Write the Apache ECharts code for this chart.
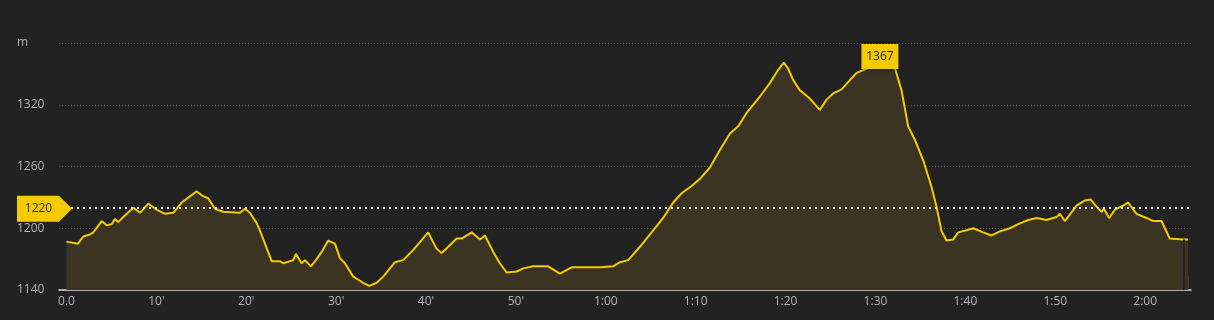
<!DOCTYPE html>
<html>
<head>
<meta charset="utf-8">
<script src="https://cdn.jsdelivr.net/npm/echarts@6/dist/echarts.min.js"></script>
<style>
  html, body { margin: 0; padding: 0; background: #222222; }
  #chart { width: 1214px; height: 320px; }
</style>
</head>
<body>
<div id="chart"></div>
<script>
// elapsed time, minutes
const minutes = [
  0.0, 1.28, 1.87, 2.61, 2.98, 3.92, 4.47, 5.03, 5.39, 5.76, 6.32, 7.43, 8.18, 9.10,
  10.03, 10.96, 11.88, 12.81, 13.74, 14.48, 15.04, 15.77, 16.52, 17.44, 19.30, 19.86,
  20.41, 21.16, 21.52, 22.08, 22.83, 23.75, 24.12, 25.23, 25.53, 26.16, 26.53, 27.20,
  27.83, 28.39, 29.12, 29.87, 30.42, 30.98, 31.90, 32.65, 33.01, 33.68, 34.50, 35.24,
  36.54, 37.46, 38.58, 40.24, 41.18, 41.74, 42.47, 43.40, 43.96, 45.07, 46.00, 46.55,
  47.48, 48.14, 48.97, 50.08, 50.81, 51.92, 53.59, 54.89, 56.20, 57.86, 59.34, 60.82,
  61.57, 62.49, 63.79, 65.27, 66.38, 67.50, 68.43, 69.54, 70.47, 71.58, 72.69, 73.81,
  74.73, 75.66, 77.14, 78.25, 79.18, 79.81, 80.29, 80.85, 81.59, 82.70, 83.81, 84.56,
  85.29, 86.23, 87.15, 87.90, 89.01, 89.70, 90.49, 91.38, 92.15, 92.90, 93.64, 94.38,
  95.31, 96.24, 96.79, 97.35, 97.91, 98.64, 99.20, 100.13, 100.87, 101.98, 102.91,
  103.84, 104.95, 105.87, 106.99, 107.92, 109.03, 110.14, 110.51, 111.07, 112.37,
  113.29, 113.93, 114.59, 115.15, 115.41, 116.00, 116.63, 117.55, 118.11, 119.04,
  120.15, 120.89, 121.82, 122.74, 124.22, 124.78
];
// elevation, metres
const elevation = [
  1187, 1185, 1192, 1194, 1196, 1207, 1203, 1204, 1209, 1206, 1211, 1220, 1215, 1224,
  1218, 1214, 1215, 1225, 1231, 1236, 1232, 1229, 1219, 1216, 1215, 1219,
  1215, 1205, 1198, 1185, 1168, 1168, 1166, 1169, 1175, 1166, 1169, 1163,
  1170, 1177, 1188, 1185, 1171, 1166, 1153, 1149, 1147, 1144, 1147, 1153,
  1167, 1169, 1179, 1196, 1180, 1176, 1182, 1190, 1190, 1196, 1189, 1193,
  1177, 1167, 1157, 1158, 1161, 1163, 1163, 1156, 1162, 1162, 1162, 1163,
  1167, 1169, 1182, 1198, 1210, 1225, 1234, 1241, 1248, 1259, 1276, 1292,
  1299, 1312, 1328, 1341, 1354, 1361, 1355, 1344, 1334, 1326, 1315, 1325,
  1331, 1335, 1344, 1351, 1355, 1360, 1367, 1362, 1356, 1334, 1299, 1286,
  1266, 1240, 1221, 1197, 1188, 1189, 1196, 1198, 1200, 1196, 1193,
  1197, 1200, 1204, 1208, 1210, 1208, 1211, 1214, 1207, 1222,
  1227, 1228, 1221, 1216, 1219, 1210, 1218, 1222, 1225, 1214,
  1210, 1207, 1207, 1190, 1189, 1189
];
const xTicks = [0, 10, 20, 30, 40, 50, 60, 70, 80, 90, 100, 110, 120];
const yTicks = [1140, 1200, 1260, 1320, 1380];
const AVG_ELEV = 1220;
const CURSOR_T = 124.3;   // playback position marker near the end

const X_MIN = -0.83, X_MAX = 125.1;
const YELLOW = '#f4cb00';

function fmtTime(v) {
  if (v === 0) return '0.0';
  if (v < 60) return v + "'";
  const m = v % 60;
  return Math.floor(v / 60) + ':' + (m < 10 ? '0' + m : m);
}

const chart = echarts.init(document.getElementById('chart'), null, { renderer: 'canvas' });

chart.setOption({
  backgroundColor: '#222222',
  animation: false,
  textStyle: { fontFamily: 'Open Sans' },
  grid: { left: 59, right: 23, top: 43, bottom: 30 },
  xAxis: {
    type: 'value',
    min: X_MIN,
    max: X_MAX,
    axisLine: { show: true, lineStyle: { color: '#d8d8d8', width: 1.5 } },
    axisTick: { show: false },
    splitLine: { show: false },
    axisLabel: {
      customValues: xTicks,
      formatter: fmtTime,
      color: '#a9b7c4',
      fontSize: 12,
      margin: 6
    }
  },
  yAxis: {
    type: 'value',
    min: yTicks[0],
    max: yTicks[yTicks.length - 1],
    interval: 60,
    axisLine: { show: false },
    axisTick: { show: false },
    axisLabel: {
      align: 'left',
      margin: 42,
      color: '#b4b4b4',
      fontSize: 12,
      formatter: v => (v === 1380 ? 'm' : v)
    },
    splitLine: { lineStyle: { color: '#585858', type: [1, 2], width: 1 } }
  },
  series: [{
    type: 'line',
    data: minutes.map((t, i) => [t, elevation[i]]),
    symbol: 'none',
    lineStyle: { color: YELLOW, width: 2 },
    itemStyle: { color: YELLOW },
    areaStyle: { color: '#3b3423', opacity: 1 },
    markLine: {
      silent: true,
      symbol: 'none',
      label: { show: false },
      data: [
        { yAxis: AVG_ELEV, lineStyle: { color: '#e6e6e6', type: [2, 4], width: 2 } },
        [
          { coord: [CURSOR_T, yTicks[0]], lineStyle: { color: '#232323', type: 'solid', width: 2 } },
          { coord: [CURSOR_T, elevation[elevation.length - 1]] }
        ]
      ]
    },
    markArea: {
      silent: true,
      itemStyle: { color: '#474747' },
      data: [[{ coord: [CURSOR_T + 0.1, 1142] }, { coord: [CURSOR_T + 0.55, 1154] }]]
    },
    markPoint: {
      silent: true,
      data: [
        {
          type: 'max',
          symbol: 'rect',
          symbolSize: [37, 25],
          itemStyle: { color: YELLOW, shadowBlur: 4, shadowColor: 'rgba(0,0,0,0.6)' },
          label: { show: true, position: 'inside', color: '#222', fontSize: 12, formatter: '{c}' }
        },
        {
          coord: [X_MIN, AVG_ELEV],
          value: AVG_ELEV,
          symbol: 'path://M0 0H42L55 13L42 26H0Z',
          symbolSize: [55, 26],
          symbolOffset: [-14.5, 1],
          itemStyle: { color: YELLOW },
          label: { show: true, position: 'inside', offset: [-6, 0], color: '#333', fontSize: 12, formatter: '{c}' }
        }
      ]
    }
  }]
});
</script>
</body>
</html>
